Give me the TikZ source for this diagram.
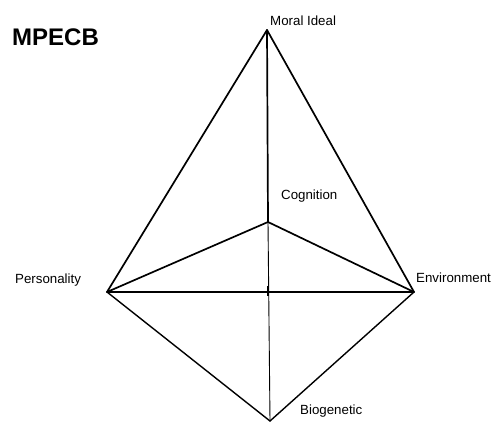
\documentclass[tikz,border=0pt]{standalone}
\usepackage{fontspec}
\setmainfont{Liberation Sans}
\begin{document}
\begin{tikzpicture}[x=1pt,y=-1pt,
  edge/.style={line width=1.7pt,line cap=round,line join=round},
  thin edge/.style={line width=0.9pt},
  lbl/.style={font=\fontsize{13.3}{15}\selectfont,inner sep=0pt,anchor=west}]
\useasboundingbox (0,0) rectangle (492,423);
\coordinate (M) at (267,30);
\coordinate (C) at (268,222);
\coordinate (P) at (107,292);
\coordinate (E) at (414,292);
\coordinate (B) at (270,421);
\node[font=\bfseries\fontsize{24}{26}\selectfont,inner sep=0pt,anchor=west] (title) at (12,37) {MPECB};
\node[lbl] (lm) at (270,21) {Moral Ideal};
\node[lbl] (lc) at (281,196) {Cognition};
\node[lbl] (lp) at (15,280) {Personality};
\node[lbl] (le) at (416,278) {Environment};
\node[lbl] (lb) at (300,411) {Biogenetic};
\draw[edge] (P) -- (M) -- (E);
\draw[edge] (M) -- (C);
\draw[edge] (P) -- (C) -- (E);
\draw[edge] (P) -- (E);
\draw[line width=1.4pt] (P) -- (B) -- (E);
\draw[thin edge] (C) -- (B);
\draw[line width=1.6pt] (268,286) -- (268,296);
\end{tikzpicture}
\end{document}
